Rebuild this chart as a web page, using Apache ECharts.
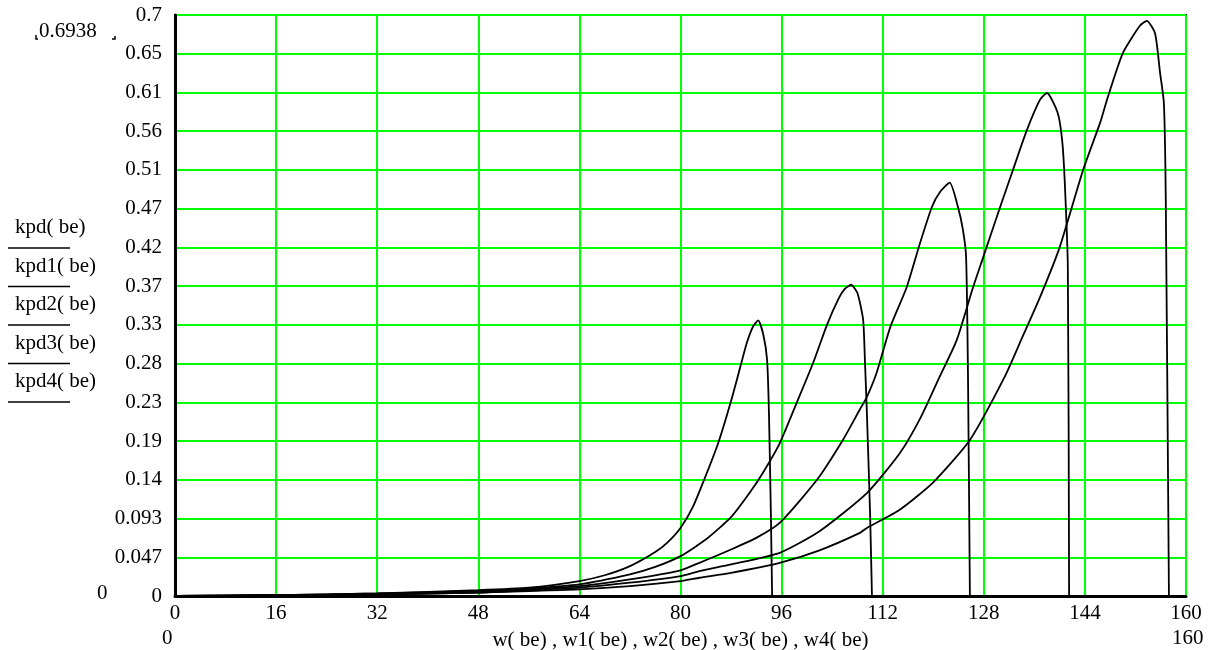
<!DOCTYPE html>
<html><head><meta charset="utf-8">
<script src="https://cdn.jsdelivr.net/npm/echarts@6/dist/echarts.min.js"></script>
<style>html,body{margin:0;padding:0;background:#fff}#c{width:1213px;height:650px}</style>
</head><body><div id="c"></div>
<script>
// ---- data ----
const xMin = 0, xMax = 160, xStep = 16;
const yMin = 0, yMax = 0.7;
const yTickLabels = ['0','0.047','0.093','0.14','0.19','0.23','0.28','0.33','0.37','0.42','0.47','0.51','0.56','0.61','0.65','0.7'];
const seriesNames = ['kpd( be)','kpd1( be)','kpd2( be)','kpd3( be)','kpd4( be)'];
const xAxisTitle = 'w( be) , w1( be) , w2( be) , w3( be) , w4( be)';
const peakMarker = '0.6938';
const yLowMarker = '0';
const xLowMarker = '0';
const xHighMarker = '160';

const kpd = [[0,0],[16,0.001],[32,0.003],[48,0.007],[56,0.010],[64,0.018],[68,0.025],[72,0.036],[76,0.053],[78,0.065],[80,0.082],[82,0.108],[84,0.145],[86,0.185],[88,0.235],[89.5,0.277],[90.5,0.305],[91.5,0.325],[92.3,0.332],[93.1,0.315],[93.7,0.285],[94,0.22],[94.3,0.1],[94.5,0]];
const kpd1 = [[0,0],[16,0.001],[32,0.003],[48,0.006],[56,0.009],[64,0.014],[72,0.026],[76,0.035],[80,0.048],[84,0.068],[88,0.095],[91,0.125],[93,0.148],[95.7,0.184],[98.4,0.233],[101,0.281],[103.2,0.327],[105,0.358],[106,0.370],[107,0.375],[108,0.365],[108.9,0.333],[109.2,0.281],[109.5,0.22],[110,0.1],[110.3,0]];
const kpd2 = [[0,0],[16,0.001],[32,0.002],[48,0.005],[56,0.008],[64,0.012],[72,0.020],[80,0.031],[83,0.040],[88,0.056],[92,0.07],[95.7,0.088],[101.6,0.14],[105.7,0.188],[108.4,0.225],[109.5,0.24],[111,0.268],[113.2,0.324],[115.8,0.372],[117.9,0.425],[119.8,0.469],[121.1,0.487],[122.6,0.498],[123.9,0.469],[124.7,0.441],[125.2,0.408],[125.5,0.264],[125.8,0]];
const kpd3 = [[0,0],[16,0.001],[32,0.002],[48,0.004],[56,0.007],[64,0.010],[72,0.016],[80,0.024],[83,0.030],[88,0.038],[95.7,0.052],[102,0.078],[109.5,0.124],[114.7,0.172],[118,0.215],[121,0.264],[123.7,0.308],[126.3,0.372],[127.9,0.408],[130.6,0.469],[132.6,0.513],[134.8,0.561],[136.9,0.598],[138,0.606],[139.7,0.582],[140.4,0.549],[140.8,0.501],[141.3,0.396],[141.5,0]];
const kpd4 = [[0,0],[16,0.001],[32,0.002],[48,0.004],[56,0.006],[64,0.008],[72,0.012],[80,0.018],[83,0.022],[88,0.028],[95.7,0.040],[102,0.055],[108.4,0.076],[109.5,0.082],[114.7,0.104],[120,0.137],[125.8,0.188],[131.3,0.264],[134,0.31],[136.9,0.36],[140,0.42],[143.7,0.513],[146.4,0.570],[147.5,0.598],[150,0.654],[152.7,0.687],[153.8,0.693],[155.1,0.678],[155.9,0.63],[156.5,0.594],[156.8,0.477],[157.3,0]];
const allSeries = [kpd, kpd1, kpd2, kpd3, kpd4];

// ---- chart ----
const FONT = 'Liberation Serif';
const FS = 21;
const yStep = (yMax - yMin) / (yTickLabels.length - 1);
const chart = echarts.init(document.getElementById('c'));

const graphics = [];
seriesNames.forEach((n, i) => {
  const cy = 228 + i * 38.5;
  graphics.push({type:'text', left:15, top:cy-11, style:{text:n, font:`${FS}px "${FONT}"`, fill:'#000'}});
  graphics.push({type:'line', shape:{x1:8, y1:cy+20, x2:70, y2:cy+20}, style:{stroke:'#000', lineWidth:1.5}});
});
graphics.push({type:'text', left:39, top:21, style:{text:peakMarker, font:`${FS}px "${FONT}"`, fill:'#000'}});
graphics.push({type:'polyline', shape:{points:[[36,35],[36,39],[38,39]]}, style:{stroke:'#000', lineWidth:1.5, fill:null}});
graphics.push({type:'polyline', shape:{points:[[112,39],[115,39],[115,36]]}, style:{stroke:'#000', lineWidth:1.5, fill:null}});
graphics.push({type:'text', left:97, top:583, style:{text:yLowMarker, font:`${FS}px "${FONT}"`, fill:'#000'}});
graphics.push({type:'text', left:162, top:628, style:{text:xLowMarker, font:`${FS}px "${FONT}"`, fill:'#000'}});
graphics.push({type:'text', left:1172, top:628, style:{text:xHighMarker, font:`${FS}px "${FONT}"`, fill:'#000'}});

chart.setOption({
  animation: false,
  backgroundColor: '#fff',
  grid: {left:175, right:27, top:15, bottom:54, show:true, borderColor:'#000', borderWidth:2,
         backgroundColor:'transparent', containLabel:false, outerBoundsMode:'none'},
  xAxis: {
    type:'value', min:xMin, max:xMax, interval:xStep,
    name: xAxisTitle, nameLocation:'middle', nameGap:34,
    nameTextStyle:{fontFamily:FONT, fontSize:FS, color:'#000'},
    axisLine:{show:true, onZero:false, lineStyle:{color:'#000', width:3}},
    axisTick:{show:false},
    axisLabel:{fontFamily:FONT, fontSize:FS, color:'#000', margin:7},
    splitLine:{show:true, lineStyle:{color:'#00ff00', width:2}}
  },
  yAxis: {
    type:'value', min:yMin, max:yMax, interval:yStep,
    axisLine:{show:true, onZero:false, lineStyle:{color:'#000', width:3}},
    axisTick:{show:false},
    axisLabel:{fontFamily:FONT, fontSize:FS, color:'#000', margin:13,
      formatter: v => { const i = Math.round((v - yMin) / yStep); return yTickLabels[i] !== undefined ? yTickLabels[i] : ''; }},
    splitLine:{show:true, lineStyle:{color:'#00ff00', width:2}}
  },
  graphic: graphics,
  series: allSeries.map((d, i) => ({
    name: seriesNames[i], type:'line', data:d, showSymbol:false,
    smooth:0.2,
    lineStyle:{color:'#000', width:1.8}, z:5
  }))
});
</script>
</body></html>
